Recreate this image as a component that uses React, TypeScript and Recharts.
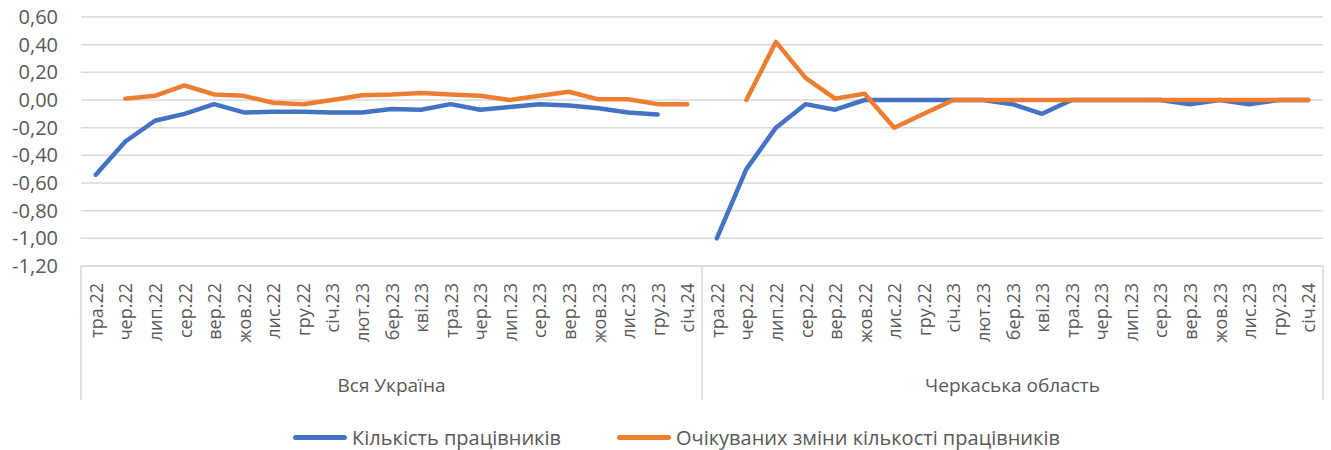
import { LineChart, Line, XAxis, YAxis, CartesianGrid, Legend } from "recharts"

const months = ["тра.22", "чер.22", "лип.22", "сер.22", "вер.22", "жов.22", "лис.22", "гру.22", "січ.23", "лют.23", "бер.23", "кві.23", "тра.23", "чер.23", "лип.23", "сер.23", "вер.23", "жов.23", "лис.23", "гру.23", "січ.24"]
const groups = ["Вся Україна", "Черкаська область"]

// Кількість працівників
const ukraineStaff = [-0.54, -0.3, -0.15, -0.1, -0.03, -0.09, -0.085, -0.085, -0.09, -0.09, -0.065, -0.07, -0.03, -0.07, -0.05, -0.03, -0.04, -0.06, -0.09, -0.105, null]
const cherkasyStaff = [-1.0, -0.5, -0.2, -0.03, -0.07, 0, 0, 0, 0, 0, -0.03, -0.1, 0, 0, 0, 0, -0.03, 0, -0.03, 0, 0]

// Очікуваних зміни кількості працівників
const ukraineExpected = [null, 0.01, 0.03, 0.105, 0.04, 0.03, -0.02, -0.03, 0, 0.035, 0.04, 0.05, 0.04, 0.03, 0, 0.03, 0.06, 0.005, 0.005, -0.03, -0.03]
const cherkasyExpected = [null, 0, 0.42, 0.16, 0.01, 0.045, -0.2, -0.1, 0, 0, 0, 0, 0, 0, 0, 0, 0, 0, 0, 0, 0]

const yTicks = [-1.2, -1.0, -0.8, -0.6, -0.4, -0.2, 0, 0.2, 0.4, 0.6]

const data = [
  ...months.map((m, i) => ({ id: i, month: m, staff: ukraineStaff[i], expected: ukraineExpected[i] })),
  ...months.map((m, i) => ({ id: 21 + i, month: m, staff: cherkasyStaff[i], expected: cherkasyExpected[i] })),
]

const W = 1331
const H = 450
const margin = { top: 17, right: 8, left: 0, bottom: 20 }
const Y_W = 81
const X_H = 134
const band = (W - margin.left - margin.right - Y_W) / data.length
const textColor = "#595959"
const gridColor = "#d9d9d9"
const BLUE = "#4472C4"
const ORANGE = "#ED7D31"

const fmt = (v: number) => v.toFixed(2).replace(".", ",")

function MonthTick(props: any) {
  const { x, y, payload } = props
  const i = Number(payload.value)
  const m = i % 21
  return (
    <g>
      <text
        transform={`translate(${x},${y + 17}) rotate(-90)`}
        textAnchor="end"
        dominantBaseline="central"
        fill={textColor}
        fontSize={18}
      >
        {months[m]}
      </text>
      {m === 10 && (
        <text x={x} y={y + 119} textAnchor="middle" dominantBaseline="central" fill={textColor} fontSize={19}>
          {groups[Math.floor(i / 21)]}
        </text>
      )}
      {m === 0 && <line x1={x - band / 2} x2={x - band / 2} y1={y} y2={y + X_H} stroke={gridColor} strokeWidth={1.5} />}
      {i === data.length - 1 && (
        <line x1={x + band / 2} x2={x + band / 2} y1={y} y2={y + X_H} stroke={gridColor} strokeWidth={1.5} />
      )}
    </g>
  )
}

function LegendBox() {
  const items = [
    { label: "Кількість працівників", color: BLUE },
    { label: "Очікуваних зміни кількості працівників", color: ORANGE },
  ]
  return (
    <div style={{ display: "flex", justifyContent: "center", alignItems: "center", height: 30, paddingLeft: 22, gap: 56 }}>
      {items.map((it) => (
        <div key={it.label} style={{ display: "flex", alignItems: "center" }}>
          <span style={{ display: "inline-block", width: 54, height: 5, borderRadius: 3, background: it.color, marginRight: 5 }} />
          <span style={{ color: textColor, fontSize: 20 }}>{it.label}</span>
        </div>
      ))}
    </div>
  )
}

export default function App() {
  return (
    <div style={{ position: "absolute", left: 0, top: 0, width: W, height: H, background: "#fff", fontFamily: '"Open Sans", sans-serif' }}>
      <LineChart width={W} height={H} data={data} margin={margin}>
        <CartesianGrid vertical={false} stroke={gridColor} strokeWidth={1.5} />
        <XAxis
          dataKey="id"
          type="category"
          scale="band"
          interval={0}
          height={X_H}
          tickSize={0}
          tickMargin={0}
          tickLine={false}
          axisLine={{ stroke: gridColor, strokeWidth: 1.5 }}
          tick={(p: any) => <MonthTick {...p} />}
        />
        <YAxis
          type="number"
          domain={[-1.2, 0.6]}
          ticks={yTicks}
          interval={0}
          width={Y_W}
          tickSize={0}
          tickMargin={23}
          axisLine={false}
          tickLine={false}
          tickFormatter={fmt}
          tick={{ fill: textColor, fontSize: 20 }}
        />
        <Legend
          verticalAlign="bottom"
          content={() => <LegendBox />}
          wrapperStyle={{ position: "absolute", top: 422, left: 0, width: W, height: 30 }}
        />
        <Line
          type="linear"
          dataKey="staff"
          name="Кількість працівників"
          stroke={BLUE}
          strokeWidth={4.5}
          strokeLinecap="round"
          strokeLinejoin="round"
          dot={false}
          activeDot={false}
          isAnimationActive={false}
        />
        <Line
          type="linear"
          dataKey="expected"
          name="Очікуваних зміни кількості працівників"
          stroke={ORANGE}
          strokeWidth={4.5}
          strokeLinecap="round"
          strokeLinejoin="round"
          dot={false}
          activeDot={false}
          isAnimationActive={false}
        />
      </LineChart>
    </div>
  )
}
